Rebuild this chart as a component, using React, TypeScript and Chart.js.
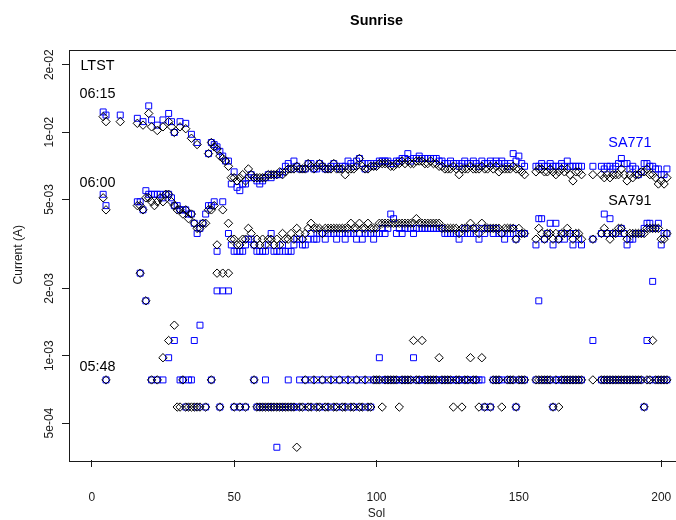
import React, { useEffect, useRef } from 'react';
import { Chart, registerables } from 'chart.js';

Chart.register(...registerables);

// Sols with at least one sunrise reading
const sols = [
  4, 5, 10, 16, 17, 18, 19, 20, 21, 22,
  23, 24, 25, 26, 27, 28, 29, 30, 31, 32,
  33, 34, 35, 36, 37, 38, 39, 40, 41, 42,
  43, 44, 45, 46, 47, 48, 49, 50, 51, 52,
  53, 54, 55, 56, 57, 58, 59, 60, 61, 62,
  63, 64, 65, 66, 67, 68, 69, 70, 71, 72,
  73, 74, 75, 76, 77, 78, 79, 80, 81, 82,
  83, 84, 85, 86, 87, 88, 89, 90, 91, 92,
  93, 94, 95, 96, 97, 98, 99, 100, 101, 102,
  103, 104, 105, 106, 107, 108, 109, 110, 111, 112,
  113, 114, 115, 116, 117, 118, 119, 120, 121, 122,
  123, 124, 125, 126, 127, 128, 129, 130, 131, 132,
  133, 134, 135, 136, 137, 138, 139, 140, 141, 142,
  143, 144, 145, 146, 147, 148, 149, 150, 151, 152,
  156, 157, 158, 159, 160, 161, 162, 163, 164, 165,
  166, 167, 168, 169, 170, 171, 172, 176, 179, 180,
  181, 182, 183, 184, 185, 186, 187, 188, 189, 190,
  191, 192, 193, 194, 195, 196, 197, 198, 199, 200,
  201, 202,
];

// Panel currents in mA, one entry per sol (null = no reading)
const sa771At0615 = [
  12.30, 11.91, 11.91, 11.52, null, 11.13, null, 13.09, 11.33, null,
  10.74, null, 11.33, null, 12.11, 11.13, 9.96, null, 11.13, null,
  10.94, null, 9.77, null, 8.98, null, null, null, 8.01, 8.98,
  8.79, 8.59, 8.20, 7.81, 7.42, 7.42, 5.86, 6.64, 5.66, 5.47,
  5.86, 5.86, 6.25, 6.45, 6.25, 6.05, 5.86, 6.05, 6.25, 6.45,
  6.25, 6.45, 6.45, 6.45, 6.64, 7.03, 7.23, 6.84, 7.42, 7.03,
  6.84, 6.84, 6.84, 7.23, 7.23, 6.84, 6.84, 7.23, 7.03, 6.84,
  6.84, 7.03, 7.23, 7.03, 6.84, 7.03, 7.03, 7.42, 7.23, 7.03,
  7.42, 7.62, 7.23, 6.84, 7.23, 7.23, 7.03, 7.23, 7.42, 7.42,
  7.42, 7.42, 7.23, 7.23, 7.42, 7.42, 7.62, 7.62, 8.01, 7.42,
  7.62, 7.62, 7.81, 7.62, 7.62, 7.62, 7.62, 7.62, 7.62, 7.42,
  7.42, 7.23, 7.23, 7.42, 7.23, 7.23, 7.03, 7.23, 7.42, 7.23,
  7.23, 7.42, 7.23, 7.03, 7.42, 7.23, 7.23, 7.42, 7.23, 7.42,
  7.23, 7.42, 7.23, 7.03, 7.23, 8.01, 7.42, 7.81, 7.23, 7.03,
  7.03, 7.03, 7.23, 7.03, 7.03, 7.23, 7.03, 7.03, 7.03, 7.23,
  7.03, 7.42, 7.03, 7.03, 7.03, 7.03, 7.03, 7.03, 7.03, 6.84,
  7.03, 7.03, 6.84, 7.03, 7.23, 7.62, 7.23, 7.23, 6.84, 7.03,
  6.84, 6.45, 6.64, 7.23, 7.23, 7.03, 7.03, 6.84, 6.84, 6.45,
  6.45, 6.84,
];

const sa791At0615 = [
  11.72, 11.13, 11.13, 10.94, null, 10.74, null, 12.11, 10.55, null,
  10.16, null, 10.55, null, 11.13, 10.55, 9.96, null, 10.55, null,
  10.35, null, 9.38, null, 8.79, null, null, null, 8.01, 8.98,
  8.59, 8.40, 7.81, 7.62, 7.42, 7.03, 6.25, 6.25, 6.05, 6.25,
  6.45, 6.05, 6.84, 6.45, 6.25, 6.25, 6.25, 6.25, 6.25, 6.45,
  6.45, 6.45, 6.45, 6.64, 6.45, 6.64, 6.84, 6.84, 6.84, 7.03,
  6.84, 6.84, 6.84, 7.23, 7.03, 6.84, 7.03, 7.23, 7.03, 6.84,
  6.84, 6.84, 7.23, 6.84, 6.84, 6.84, 6.45, 6.84, 6.84, 6.84,
  7.03, 7.62, 7.03, 6.84, 6.84, 7.03, 7.03, 7.03, 7.23, 7.23,
  7.23, 7.23, 7.03, 7.03, 7.23, 7.23, 7.42, 7.23, 7.42, 7.23,
  7.23, 7.42, 7.42, 7.42, 7.23, 7.23, 7.42, 7.23, 7.23, 7.03,
  7.03, 6.84, 6.84, 6.84, 7.03, 6.84, 6.45, 6.84, 6.84, 6.84,
  7.03, 6.84, 6.84, 6.84, 7.03, 6.84, 6.84, 7.03, 6.84, 7.03,
  6.64, 6.84, 6.84, 6.84, 6.84, 7.03, 6.84, 6.84, 6.64, 6.45,
  6.64, 6.84, 6.84, 6.64, 6.64, 6.84, 6.64, 6.45, 6.64, 6.84,
  6.64, 6.84, 6.45, 6.05, 6.64, 6.64, 6.45, 6.45, 6.45, 6.25,
  6.45, 6.25, 6.45, 6.45, 6.45, 6.84, 6.45, 6.05, 6.45, 6.25,
  6.45, 6.45, 6.64, 6.64, 6.84, 6.45, 6.45, 6.25, 5.86, 6.05,
  5.86, 6.25,
];

const sa771At0600 = [
  5.27, 4.69, null, 4.88, 4.88, 4.49, 5.47, 5.27, 5.27, 5.27,
  5.27, 5.27, 5.08, 5.27, 5.27, 5.08, 4.69, 4.69, 4.49, 4.49,
  4.49, 4.30, 4.30, 3.91, 3.52, 3.71, 3.91, 4.30, 4.69, 4.69,
  4.88, 2.93, null, 4.88, null, 3.52, 3.13, 2.93, 2.93, 2.93,
  2.93, 3.13, 3.32, 3.32, 3.13, 2.93, 2.93, 2.93, 2.93, 3.13,
  3.52, 2.93, 2.93, 2.93, 3.13, 2.93, 2.93, 2.93, 3.13, 3.32,
  3.32, 3.13, 3.13, 3.32, 3.52, 3.32, 3.32, 3.52, 3.52, 3.32,
  3.52, 3.52, 3.52, 3.32, 3.52, 3.52, 3.32, 3.52, 3.52, 3.52,
  3.32, 3.52, 3.32, 3.52, 3.52, 3.52, 3.32, 3.52, 3.52, 3.71,
  3.52, 3.71, 4.30, 4.10, 3.52, 3.71, 3.52, 3.71, 3.71, 3.71,
  3.52, 3.71, 3.71, 3.71, 3.71, 3.71, 3.71, 3.71, 3.71, 3.71,
  3.71, 3.52, 3.52, 3.52, 3.52, 3.52, 3.32, 3.52, 3.71, 3.52,
  3.52, 3.71, 3.52, 3.32, 3.71, 3.52, 3.71, 3.71, 3.52, 3.71,
  3.52, 3.52, 3.32, 3.52, 3.52, 3.71, 3.32, 3.52, 3.52, 3.52,
  3.13, 4.10, 4.10, 3.32, 3.52, 3.91, 3.13, 3.91, 3.32, 3.52,
  3.32, 3.52, 3.52, 3.13, 3.52, 3.32, 3.13, 3.32, 3.52, 4.30,
  3.52, 4.10, 3.52, 3.52, 3.52, 3.71, 3.52, 3.13, 3.32, 3.32,
  3.52, 3.52, 3.52, 3.71, 3.91, 3.91, 3.71, 3.71, 3.91, 3.13,
  3.52, 3.52,
];

const sa791At0600 = [
  5.08, 4.49, null, 4.69, 4.69, 4.49, 5.08, 5.08, 4.88, 4.69,
  4.88, 5.08, 4.88, 5.27, 5.27, 4.88, 4.69, 4.49, 4.49, 4.30,
  4.49, 4.10, 4.30, 3.91, 3.71, 3.71, 3.91, 3.91, 4.49, 4.49,
  4.69, 3.13, null, 4.49, null, 3.91, 3.32, 3.32, 3.13, 3.13,
  3.32, 3.32, 3.71, 3.52, 3.13, 3.32, 3.13, 3.32, 3.13, 3.32,
  3.32, 3.13, 3.32, 3.13, 3.52, 3.32, 3.32, 3.52, 3.32, 3.71,
  3.52, 3.32, 3.52, 3.71, 3.91, 3.71, 3.71, 3.71, 3.52, 3.71,
  3.71, 3.71, 3.71, 3.71, 3.71, 3.71, 3.71, 3.71, 3.91, 3.71,
  3.71, 3.91, 3.71, 3.71, 3.91, 3.71, 3.71, 3.71, 3.91, 3.91,
  3.91, 3.91, 3.91, 3.91, 3.91, 3.91, 3.91, 3.91, 3.91, 3.91,
  3.91, 4.10, 3.91, 3.91, 3.91, 3.91, 3.91, 3.91, 3.91, 3.91,
  3.71, 3.71, 3.71, 3.71, 3.71, 3.71, 3.52, 3.71, 3.71, 3.71,
  3.91, 3.71, 3.71, 3.52, 3.91, 3.71, 3.71, 3.71, 3.71, 3.71,
  3.71, 3.52, 3.71, 3.71, 3.71, 3.71, 3.32, 3.71, 3.52, 3.52,
  3.32, 3.71, 3.52, 3.32, 3.52, 3.52, 3.32, 3.52, 3.32, 3.52,
  3.52, 3.71, 3.52, 3.32, 3.52, 3.52, 3.32, 3.32, 3.52, 3.71,
  3.52, 3.32, 3.52, 3.52, 3.71, 3.71, 3.52, 3.32, 3.52, 3.52,
  3.52, 3.52, 3.52, 3.52, 3.71, 3.71, 3.71, 3.71, 3.71, 3.32,
  3.32, 3.52,
];

const sa771At0548 = [
  null, 0.78, null, null, 2.34, null, 1.76, null, 0.78, null,
  0.78, null, 0.78, null, 0.98, null, 1.17, null, 0.78, 0.78,
  0.59, 0.78, 0.78, 1.17, 0.59, 1.37, null, 0.59, null, 0.78,
  null, 1.95, 0.59, 1.95, null, 1.95, null, 0.59, null, 0.59,
  null, 0.59, null, null, 0.78, 0.59, 0.59, 0.59, 0.78, 0.59,
  0.59, 0.59, 0.39, 0.59, 0.59, 0.59, 0.78, 0.59, 0.59, 0.59,
  0.78, 0.59, 0.78, 0.59, 0.78, 0.59, 0.78, 0.59, 0.78, 0.59,
  0.78, 0.59, 0.78, 0.59, 0.78, 0.59, 0.78, 0.59, 0.78, 0.59,
  0.78, 0.59, 0.78, 0.59, 0.78, 0.59, 0.78, 0.78, 0.98, 0.78,
  0.78, 0.78, 0.78, 0.78, 0.78, 0.78, 0.78, 0.78, 0.78, 0.78,
  0.98, 0.78, 0.78, 0.78, 0.78, 0.78, 0.78, 0.78, 0.78, 0.78,
  0.78, 0.78, 0.78, 0.78, 0.78, 0.78, 0.78, 0.78, 0.78, 0.78,
  0.78, 0.78, 0.78, 0.78, 0.78, 0.59, null, 0.59, 0.78, 0.78,
  0.78, 0.78, null, 0.78, 0.78, 0.78, 0.59, 0.78, 0.78, 0.78,
  0.78, 1.76, 0.78, 0.78, 0.78, 0.78, 0.59, 0.78, 0.78, 0.78,
  0.78, 0.78, 0.78, 0.78, 0.78, 0.78, 0.78, 1.17, 0.78, 0.78,
  0.78, 0.78, 0.78, 0.78, 0.78, 0.78, 0.78, 0.78, 0.78, 0.78,
  0.78, 0.78, 0.78, 0.59, 1.17, 0.78, 2.15, 0.78, 0.78, 0.78,
  0.78, 0.78,
];

const sa791At0548 = [
  null, 0.78, null, null, 2.34, null, 1.76, null, 0.78, null,
  0.78, null, 0.98, null, 1.17, null, 1.37, 0.59, 0.59, 0.78,
  0.59, 0.59, 0.59, 0.59, 0.59, 0.59, null, 0.59, null, 0.78,
  null, 2.34, 0.59, 2.34, null, 2.34, null, 0.59, null, 0.59,
  null, 0.59, null, null, 0.78, 0.59, 0.59, 0.59, 0.59, 0.59,
  0.59, 0.59, 0.59, 0.59, 0.59, 0.59, 0.59, 0.59, 0.59, 0.39,
  0.59, 0.59, 0.78, 0.59, 0.59, 0.78, 0.59, 0.59, 0.78, 0.59,
  0.59, 0.78, 0.59, 0.59, 0.78, 0.59, 0.59, 0.78, 0.59, 0.59,
  0.78, 0.59, 0.59, 0.78, 0.59, 0.59, 0.78, 0.78, 0.78, 0.59,
  0.78, 0.78, 0.78, 0.78, 0.78, 0.59, 0.78, 0.78, 0.78, 0.78,
  1.17, 0.78, 0.78, 1.17, 0.78, 0.78, 0.78, 0.78, 0.78, 0.98,
  0.78, 0.78, 0.78, 0.78, 0.59, 0.78, 0.78, 0.59, 0.78, 0.78,
  0.98, 0.78, 0.78, 0.59, 0.98, 0.59, null, 0.59, 0.78, 0.78,
  0.78, 0.59, null, 0.78, 0.78, 0.78, 0.59, 0.78, 0.78, 0.78,
  0.78, 0.78, 0.78, 0.78, 0.78, 0.78, 0.59, 0.78, 0.59, 0.78,
  0.78, 0.78, 0.78, 0.78, 0.78, 0.78, 0.78, 0.78, 0.78, 0.78,
  0.78, 0.78, 0.78, 0.78, 0.78, 0.78, 0.78, 0.78, 0.78, 0.78,
  0.78, 0.78, 0.78, 0.59, 0.78, 0.78, 1.17, 0.78, 0.78, 0.78,
  0.78, 0.78,
];

// Axis ranges (before the usual 4% padding) and tick marks
const solRange = [0, 200];
const currentRange = [4e-4, 2e-2];
const solTicks = [0, 50, 100, 150, 200];
const currentTicks = [5e-4, 1e-3, 2e-3, 5e-3, 1e-2, 2e-2];
const currentTickLabels = ['5e-04', '1e-03', '2e-03', '5e-03', '1e-02', '2e-02'];

// Text placed on the plot in data coordinates
const notes = [
  { text: 'LTST', sol: 2, current: 2e-2, color: '#000000' },
  { text: '06:15', sol: 2, current: 1.5e-2, color: '#000000' },
  { text: '06:00', sol: 2, current: 6e-3, color: '#000000' },
  { text: '05:48', sol: 2, current: 9e-4, color: '#000000' },
  { text: 'SA771', sol: 189, current: 9e-3, color: '#0000ff' },
  { text: 'SA791', sol: 189, current: 5e-3, color: '#000000' },
];

const FONT = '"Liberation Sans", Arial, Helvetica, sans-serif';
const MA = 1e-3;
const BLUE = '#0000ff';
const INK = '#1a1a1a';

function toPoints(values: (number | null)[]) {
  const pts: { x: number; y: number }[] = [];
  values.forEach((v, i) => {
    if (v !== null) pts.push({ x: sols[i], y: v * MA });
  });
  return pts;
}

function padLinear([lo, hi]: number[]) {
  const d = (hi - lo) * 0.04;
  return [lo - d, hi + d];
}

function padLog([lo, hi]: number[]) {
  const a = Math.log10(lo);
  const b = Math.log10(hi);
  const d = (b - a) * 0.04;
  return [Math.pow(10, a - d), Math.pow(10, b + d)];
}

const [xMin, xMax] = padLinear(solRange);
const [yMin, yMax] = padLog(currentRange);

const decorations = {
  id: 'decorations',
  afterDraw(chart: any) {
    const { ctx, chartArea, scales } = chart;
    const { left, top, right, bottom } = chartArea;
    const xs = scales.x;
    const ys = scales.y;
    ctx.save();

    // plot frame
    ctx.strokeStyle = INK;
    ctx.lineWidth = 1;
    ctx.strokeRect(Math.round(left) + 0.5, Math.round(top) + 0.5, Math.round(right - left), Math.round(bottom - top));

    // rotated y tick labels
    ctx.fillStyle = INK;
    ctx.font = `12px ${FONT}`;
    ctx.textAlign = 'center';
    ctx.textBaseline = 'alphabetic';
    currentTicks.forEach((v, i) => {
      const py = ys.getPixelForValue(v);
      ctx.save();
      ctx.translate(53, py);
      ctx.rotate(-Math.PI / 2);
      ctx.fillText(currentTickLabels[i], 0, 0);
      ctx.restore();
    });

    // axis titles
    const midX = (left + right) / 2;
    const midY = (top + bottom) / 2;
    ctx.fillText('Sol', midX, 517);
    ctx.save();
    ctx.translate(22, midY);
    ctx.rotate(-Math.PI / 2);
    ctx.fillText('Current (A)', 0, 0);
    ctx.restore();

    // main title
    ctx.font = `bold 14.4px ${FONT}`;
    ctx.fillStyle = '#000000';
    ctx.fillText('Sunrise', midX, 25);

    // in-plot notes
    ctx.font = `14.4px ${FONT}`;
    notes.forEach((n) => {
      ctx.fillStyle = n.color;
      ctx.fillText(n.text, xs.getPixelForValue(n.sol), ys.getPixelForValue(n.current) + 5.2);
    });

    ctx.restore();
  },
};

export default function App() {
  const canvasRef = useRef<HTMLCanvasElement | null>(null);

  useEffect(() => {
    const canvas = canvasRef.current;
    if (!canvas) return;

    const sa771 = [...toPoints(sa771At0615), ...toPoints(sa771At0600), ...toPoints(sa771At0548)];
    const sa791 = [...toPoints(sa791At0615), ...toPoints(sa791At0600), ...toPoints(sa791At0548)];

    const chart = new Chart(canvas, {
      type: 'scatter',
      data: {
        datasets: [
          {
            label: 'SA771',
            data: sa771,
            pointStyle: 'rect',
            pointRadius: 4.2,
            pointBorderWidth: 1,
            borderColor: BLUE,
            backgroundColor: 'rgba(0,0,0,0)',
            order: 2,
          },
          {
            label: 'SA791',
            data: sa791,
            pointStyle: 'rectRot',
            pointRadius: 4.2,
            pointBorderWidth: 1,
            borderColor: '#000000',
            backgroundColor: 'rgba(0,0,0,0)',
            order: 1,
          },
        ],
      },
      options: {
        responsive: false,
        animation: false,
        devicePixelRatio: 1,
        events: [],
        layout: { padding: { left: 0, right: 16, top: 49.5, bottom: 0 } },
        plugins: {
          legend: { display: false },
          tooltip: { enabled: false },
          title: { display: false },
        },
        scales: {
          x: {
            type: 'linear',
            position: 'bottom',
            bounds: 'data',
            min: xMin,
            max: xMax,
            afterBuildTicks: (s: any) => {
              s.ticks = solTicks.map((v) => ({ value: v }));
              s.min = xMin;
              s.max = xMax;
            },
            afterFit: (s: any) => {
              s.height = 60;
            },
            grid: { drawOnChartArea: false, drawTicks: true, tickLength: 7, color: INK, lineWidth: 1 },
            border: { display: false },
            ticks: {
              color: INK,
              font: { family: FONT, size: 12 },
              padding: 23,
              maxRotation: 0,
              autoSkip: false,
              callback: (v: any) => String(v),
            },
          },
          y: {
            type: 'logarithmic',
            position: 'left',
            bounds: 'data',
            min: yMin,
            max: yMax,
            afterBuildTicks: (s: any) => {
              s.ticks = currentTicks.map((v) => ({ value: v }));
              s.min = yMin;
              s.max = yMax;
            },
            afterFit: (s: any) => {
              s.width = 69;
            },
            grid: { drawOnChartArea: false, drawTicks: true, tickLength: 7, color: INK, lineWidth: 1 },
            border: { display: false },
            ticks: { display: false },
          },
        },
      },
      plugins: [decorations],
    });

    return () => chart.destroy();
  }, []);

  return (
    <div style={{ position: 'absolute', left: 0, top: 0, width: 676, height: 520, overflow: 'hidden', background: '#ffffff' }}>
      <canvas ref={canvasRef} width={700} height={520} style={{ display: 'block', width: 700, height: 520 }} />
    </div>
  );
}
